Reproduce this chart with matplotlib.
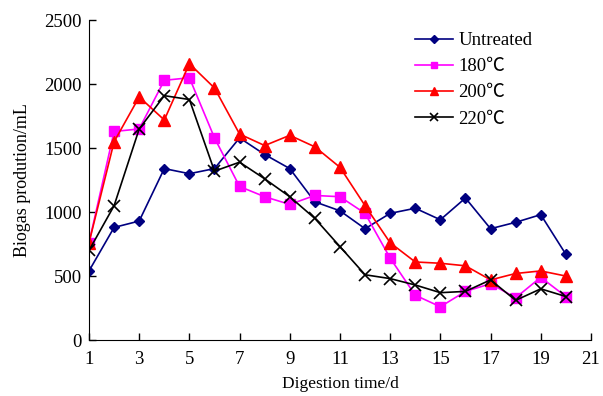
import matplotlib
matplotlib.use("Agg")
import matplotlib.pyplot as plt

plt.rcParams['font.family'] = ['Liberation Serif', 'Noto Sans CJK SC', 'DejaVu Serif']

days = list(range(1, 21))
untreated = [540, 880, 930, 1340, 1300, 1340, 1580, 1450, 1340, 1080,
             1010, 870, 990, 1030, 940, 1110, 870, 920, 980, 670]
t180 = [760, 1630, 1650, 2030, 2050, 1580, 1200, 1120, 1060, 1130,
        1120, 990, 640, 350, 260, 380, 440, 330, 490, 340]
t200 = [760, 1550, 1900, 1720, 2160, 1970, 1610, 1520, 1600, 1510,
        1350, 1050, 760, 610, 600, 580, 470, 520, 540, 500]
t220 = [700, 1050, 1650, 1910, 1880, 1320, 1390, 1260, 1120, 950,
        730, 510, 480, 430, 370, 380, 470, 310, 400, 340]
labels = ['Untreated', '180\u2103', '200\u2103', '220\u2103']
xticks = list(range(1, 22, 2))
yticks = list(range(0, 2501, 500))

fig = plt.figure(figsize=(6.03, 3.96), dpi=100)
ax = fig.add_axes([0.1476, 0.1414, 0.8324, 0.8076])

ax.plot(days, untreated, color='#000080', marker='D', markersize=5.5, lw=1.2, label=labels[0])
ax.plot(days, t180, color='#FF00FF', marker='s', markersize=6.5, lw=1.2, label=labels[1])
ax.plot(days, t200, color='#FF0000', marker='^', markersize=8, lw=1.2, label=labels[2])
ax.plot(days, t220, color='black', marker='x', markersize=8, mew=1.2, lw=1.2, label=labels[3])

ax.set_xlim(1, 21)
ax.set_ylim(0, 2500)
ax.set_xticks(xticks)
ax.set_yticks(yticks)
ax.tick_params(direction='in', length=5, labelsize=13.5, width=1)
ax.tick_params(axis='y', pad=5)
ax.tick_params(axis='x', pad=8)
for s in ['top', 'right']:
    ax.spines[s].set_visible(False)
ax.set_xlabel('Digestion time/d', fontsize=12.5, labelpad=6)
ax.set_ylabel('Biogas prodution/mL', fontsize=13, labelpad=10)

ax.legend(loc='upper left', bbox_to_anchor=(415 / 603, 1 - 32 / 396),
          bbox_transform=fig.transFigure, frameon=False, fontsize=13.5,
          numpoints=1, handlelength=2.0, handletextpad=0.3, labelspacing=0.48,
          borderpad=0, borderaxespad=0, markerscale=0.75)

fig.savefig('out.png', dpi=100)
